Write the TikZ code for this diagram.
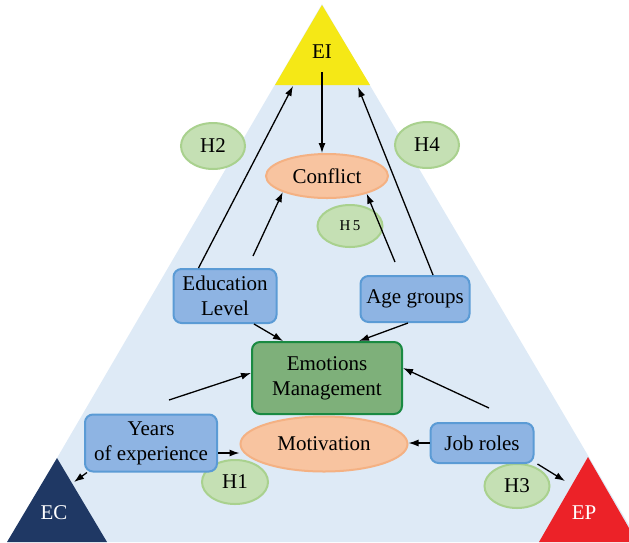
\documentclass[tikz,border=0pt]{standalone}
\usepackage{fontspec}
\setmainfont{Liberation Serif}
\usetikzlibrary{shapes.geometric,arrows.meta}

\definecolor{bgblue}{RGB}{222,234,246}
\definecolor{eiyellow}{RGB}{245,232,22}
\definecolor{ecnavy}{RGB}{31,56,100}
\definecolor{epred}{RGB}{236,34,40}
\definecolor{hypfill}{RGB}{197,224,180}
\definecolor{hypline}{RGB}{169,209,142}
\definecolor{peachfill}{RGB}{248,196,160}
\definecolor{peachline}{RGB}{244,177,131}
\definecolor{boxfill}{RGB}{142,180,227}
\definecolor{boxline}{RGB}{91,155,213}
\definecolor{emofill}{RGB}{126,176,122}
\definecolor{emoline}{RGB}{26,138,66}

\tikzset{
  hyp/.style={ellipse, draw=hypline, fill=hypfill, line width=2pt, inner sep=0pt, minimum width=64pt, minimum height=46pt},
  outcome/.style={ellipse, draw=peachline, fill=peachfill, line width=2pt, inner sep=0pt},
  factor/.style={rectangle, rounded corners=8pt, draw=boxline, fill=boxfill, line width=2pt, inner sep=0pt, align=center},
  link/.style={->, line width=1.3pt}
}

\begin{document}
\begin{tikzpicture}[x=1pt,y=-1pt,>={Latex[length=10pt,width=7pt]},font=\fontsize{21}{25}\selectfont]
\useasboundingbox (0,0) rectangle (629,542);
\clip (0,0) rectangle (629,542);

% triangles
\fill[bgblue] (322,4) -- (8,542) -- (639,542) -- cycle;
\fill[eiyellow] (322,5) -- (275,85) -- (370,85) -- cycle;
\fill[ecnavy] (57,458) -- (7,542) -- (107,542) -- cycle;
\fill[epred] (588,457) -- (539,542) -- (637,542) -- cycle;
\coordinate (eiL) at (293,86);
\coordinate (eiR) at (358,87);
\coordinate (ecE) at (74,482);
\coordinate (epW) at (565,481);

\node (ei) at (322,52) {EI};
\node[text=white] (ec) at (54,513) {EC};
\node[text=white] (ep) at (584,513) {EP};

\node[hyp] (h2) at (213,146) {H2};
\node[hyp] (h4) at (427,145) {H4};
\node[hyp, minimum width=65pt, minimum height=42pt, font=\fontsize{15}{17}\selectfont] (h5) at (350,226) {H\,5};
\node[hyp, minimum width=66pt, minimum height=44pt] (h1) at (235,482) {H1};
\node[hyp, minimum width=65pt, minimum height=44pt] (h3) at (517,486) {H3};

\node[outcome, minimum width=122pt, minimum height=44pt] (conflict) at (327,176) {Conflict};
\node[outcome, minimum width=167pt, minimum height=55pt] (motiv) at (324,444) {Motivation};

\node[factor, minimum width=103pt, minimum height=54pt] (edu) at (225,296) {Education\\Level};
\node[factor, minimum width=109pt, minimum height=46pt] (age) at (415,299) {Age groups};
\node[factor, minimum width=132pt, minimum height=57pt] (years) at (151,443) {Years\\of experience};
\node[factor, minimum width=103pt, minimum height=40pt] (job) at (482,443) {Job roles};
\node[factor, draw=emoline, fill=emofill, minimum width=150pt, minimum height=72pt] (emo) at (327,378) {Emotions\\Management};

\coordinate (eduC) at (253,256);
\coordinate (ageC) at (395,262);
\coordinate (yearsE) at (169,400);
\coordinate (jobE) at (489,408);

% arrows
\draw[link, shorten <=10pt] (ei.south) -- (ei.south |- conflict.north);
\draw[link] ([xshift=26pt]edu.north west) -- (eiL);
\draw[link] ([xshift=18pt]age.north) -- (eiR);
\draw[link] (eduC) -- (conflict.200);
\draw[link] (ageC) -- (conflict.336);
\draw[link] ([xshift=29pt]edu.south) -- ([xshift=-44pt]emo.north);
\draw[link] ([xshift=-7pt]age.south) -- ([xshift=32pt]emo.north);
\draw[link] (yearsE) -- ([yshift=5pt]emo.west);
\draw[link] (jobE) -- ([yshift=10pt]emo.east);
\draw[link] (job.west) -- (job.west -| motiv.east);
\draw[link] ([yshift=-10pt]years.east) -- ([yshift=-10pt]years.east -| motiv.west);
\draw[link] ([xshift=3pt]years.south west) -- (ecE);
\draw[link] ([xshift=3pt]job.south east) -- (epW);

\end{tikzpicture}
\end{document}
